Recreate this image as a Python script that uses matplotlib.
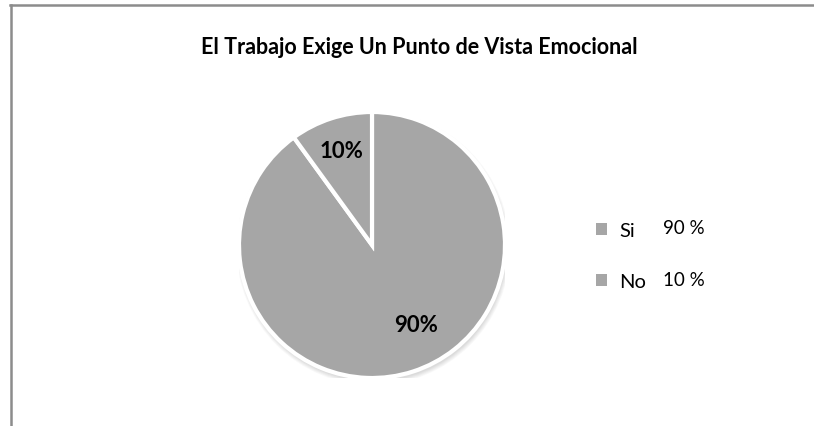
import matplotlib.pyplot as plt
import numpy as np
from matplotlib.lines import Line2D
from matplotlib.patches import Circle

categories = ["Si", "No"]
values = [90, 10]
legend_pcts = ["90 %", "10 %"]
title = "El Trabajo Exige Un Punto de Vista Emocional"

W, H = 814, 427
GRAY = "#a6a6a6"
FONT = ["Lato", "DejaVu Sans"]


def fx(px):
    return px / W


def fy(py):
    return 1 - py / H


fig = plt.figure(figsize=(W / 100, H / 100), dpi=100)
fig.patch.set_facecolor("white")

# chart frame (only top and left edges visible)
fig.add_artist(Line2D([fx(10), fx(814)], [fy(6), fy(6)], color="#8c8c8c", lw=1.8))
fig.add_artist(Line2D([fx(10.5), fx(10.5)], [fy(6), fy(427)], color="#8c8c8c", lw=1.8))

fig.text(fx(419), fy(48), title, ha="center", va="center",
         fontsize=15.5, fontweight="bold", family=FONT)

# pie
cx, cy, r = 372, 246, 133
ax = fig.add_axes([fx(cx - r), fy(cy + r), (2 * r) / W, (2 * r) / H])
ax.axis("off")

# soft shadow
for k in range(6):
    ax.add_patch(Circle((0.01, -0.025), 1.0 + 0.006 * k, color="black",
                        alpha=0.025, zorder=0, lw=0))

wedges, texts, autotexts = ax.pie(
    values, startangle=90, counterclock=False, colors=[GRAY, GRAY],
    autopct=lambda p: f"{p:.0f}%", pctdistance=0.75,
    wedgeprops=dict(edgecolor="white", linewidth=3),
    textprops=dict(fontsize=16, fontweight="bold", family=FONT, color="black"),
)
autotexts[0].set_position((0.33, -0.60))
ax.set_xlim(-1, 1)
ax.set_ylim(-1, 1)
ax.set_aspect("equal")

leg = fig.legend(wedges, categories, loc="upper left", bbox_to_anchor=(fx(578), fy(205)),
                 frameon=False, handlelength=0.55, handleheight=0.55, handletextpad=0.6,
                 labelspacing=1.7, prop=dict(family=FONT, size=14.5))
for h in leg.legend_handles:
    h.set_edgecolor(GRAY)
    h.set_linewidth(0)

for pct, py in zip(legend_pcts, [229, 281]):
    fig.text(fx(684), fy(py), pct, ha="center", va="center", fontsize=13.5, family=FONT)

fig.savefig("out.png", dpi=100)
